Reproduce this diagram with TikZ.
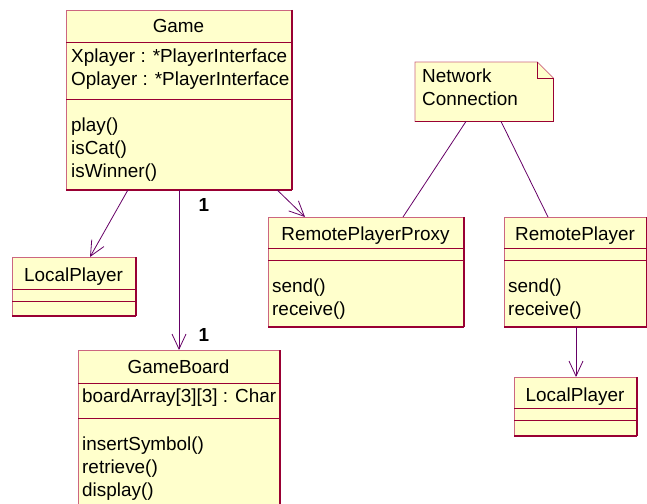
\documentclass[tikz,border=0pt]{standalone}
\usepackage{fontspec}
\setmainfont{Liberation Sans}
\usetikzlibrary{arrows.meta}
\definecolor{boxfill}{RGB}{255,255,204}
\definecolor{boxred}{RGB}{153,0,51}
\definecolor{boxpink}{RGB}{204,102,128}
\definecolor{linkpurple}{RGB}{102,0,102}

\begin{document}
\begin{tikzpicture}[x=1pt,y=-1pt,
    font=\fontsize{18.9}{23}\selectfont,
    shadowline/.style={draw=boxred, line width=1.8pt},
    compline/.style={draw=boxred, line width=0.8pt},
    classbox/.style={draw=boxpink, fill=boxfill, line width=0.8pt, inner sep=0pt, anchor=north west,
      append after command={(\tikzlastnode.north east) edge[shadowline] (\tikzlastnode.south east)
                            (\tikzlastnode.south west) edge[shadowline] (\tikzlastnode.south east)}},
    notebox/.style={inner sep=0pt, anchor=north west, minimum width=138pt, minimum height=59pt},
    classname/.style={anchor=base, inner sep=0pt},
    member/.style={anchor=base west, inner sep=0pt},
    mult/.style={anchor=center, inner sep=0pt, font=\fontsize{18.9}{23}\selectfont\bfseries},
    link/.style={draw=linkpurple, line width=0.8pt, -{Straight Barb[length=15pt,width=14pt]}},
    notelink/.style={draw=linkpurple, line width=0.8pt}]

  \useasboundingbox (0,0) rectangle (647,503);

  % classes
  \begin{scope}[every node/.style={classbox}]
    \node[minimum width=225pt, minimum height=179pt] (game)   at (66,10)   {};
    \node[minimum width=123pt, minimum height=58pt]  (locall) at (12,257)  {};
    \node[minimum width=201pt, minimum height=165pt] (board)  at (78,350)  {};
    \node[minimum width=195pt, minimum height=109pt] (proxy)  at (268,217) {};
    \node[minimum width=142pt, minimum height=109pt] (remote) at (504,217) {};
    \node[minimum width=122pt, minimum height=58pt]  (localr) at (514,377) {};
  \end{scope}

  \foreach \n/\a/\b in {game/32/89, locall/32/44, board/33/68, proxy/31/43, remote/31/43, localr/31/43}{
    \draw[compline] ([yshift={-\a*1pt}]\n.north west) -- ([yshift={-\a*1pt}]\n.north east);
    \draw[compline] ([yshift={-\b*1pt}]\n.north west) -- ([yshift={-\b*1pt}]\n.north east);
  }

  % note
  \node[notebox] (note) at (415,62) {};
  \draw[compline, draw=boxpink, fill=boxfill] (note.north west) -- ([xshift=-16pt]note.north east)
    -- ([yshift=-16pt]note.north east) -- (note.south east) -- (note.south west) -- cycle;
  \draw[compline] ([xshift=-16pt]note.north east) -- ([xshift=-16pt,yshift=-16pt]note.north east)
    -- ([yshift=-16pt]note.north east);
  \draw[shadowline] ([yshift=-16pt]note.north east) -- (note.south east) -- (note.south west);

  % texts
  \node[classname] (game-n)   at (178.5,33) {Game};
  \node[classname] (locall-n) at (73.5,281) {LocalPlayer};
  \node[classname] (board-n)  at (178.5,373) {GameBoard};
  \node[classname] (proxy-n)  at (365.5,240) {RemotePlayerProxy};
  \node[classname] (remote-n) at (575,240) {RemotePlayer};
  \node[classname] (localr-n) at (575,401) {LocalPlayer};

  \foreach \t [count=\i] in {Xplayer : *PlayerInterface, Oplayer : *PlayerInterface}
    \node[member] (game-a\i) at (71,{62.5+23*(\i-1)}) {\t};
  \foreach \t [count=\i] in {play(), isCat(), isWinner()}
    \node[member] (game-m\i) at (71,{131.5+23*(\i-1)}) {\t};
  \node[member] (board-a1) at (82,402.5) {boardArray[3][3] : Char};
  \foreach \t [count=\i] in {insertSymbol(), retrieve(), display()}
    \node[member] (board-m\i) at (82,{450+23*(\i-1)}) {\t};
  \foreach \t [count=\i] in {send(), receive()}{
    \node[member] (proxy-m\i)  at (272,{292.5+23*(\i-1)}) {\t};
    \node[member] (remote-m\i) at (508,{292.5+23*(\i-1)}) {\t};
  }
  \foreach \t [count=\i] in {Network, Connection}
    \node[member] (note-t\i) at (422,{82.3+23*(\i-1)}) {\t};

  % connectors
  \path ([xshift=62pt]game.south west)  edge[link] ([xshift=78pt]locall.north west);
  \path ([xshift=113pt]game.south west) edge[link] ([xshift=101pt]board.north west);
  \path ([xshift=211pt]game.south west) edge[link] ([xshift=37pt]proxy.north west);
  \path ([xshift=72pt]remote.south west) edge[link] ([xshift=62pt]localr.north west);
  \path ([xshift=51pt]note.south west)  edge[notelink] ([xshift=135pt]proxy.north west);
  \path ([xshift=86pt]note.south west)  edge[notelink] ([xshift=44pt]remote.north west);

  \node[mult] (mult-game)  at (204,205)   {1};
  \node[mult] (mult-board) at (204,334.5) {1};

\end{tikzpicture}
\end{document}
